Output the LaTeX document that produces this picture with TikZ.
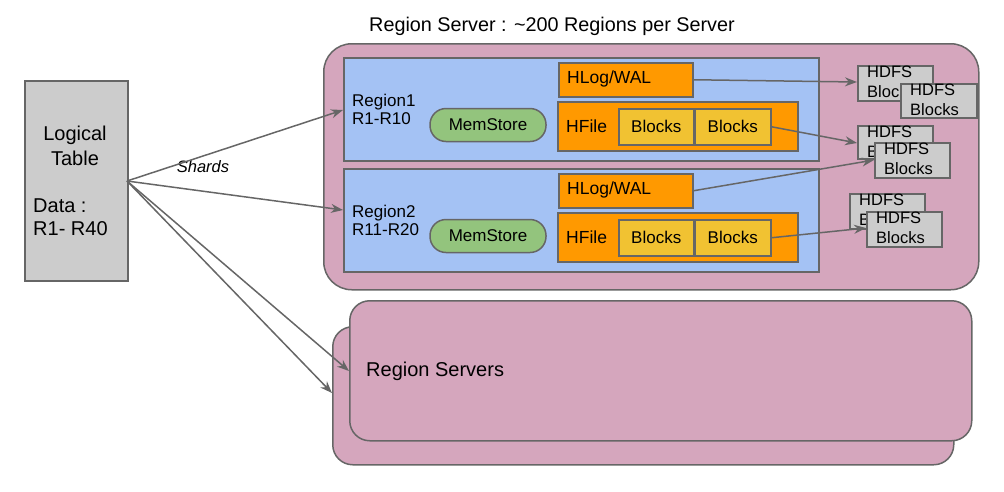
\documentclass[tikz,border=0pt]{standalone}
\usepackage{fontspec}
\setmainfont{Liberation Sans}
\usetikzlibrary{arrows.meta,shapes.geometric}
\definecolor{srvpink}{HTML}{D5A6BD}
\definecolor{regblue}{HTML}{A4C2F4}
\definecolor{hfor}{HTML}{FF9900}
\definecolor{blky}{HTML}{F1C232}
\definecolor{memg}{HTML}{93C47D}
\definecolor{hgray}{HTML}{CCCCCC}
\definecolor{edge}{HTML}{666666}
\tikzset{
  base/.style={draw=edge, line width=1.5pt, inner sep=0pt, anchor=north west},
  server/.style={base, fill=srvpink, rounded corners=28pt},
  regionbox/.style={base, fill=regblue},
  orangebox/.style={base, fill=hfor},
  blockbox/.style={base, fill=blky, font=\fontsize{17}{19}\selectfont},
  hdfsbox/.style={base, fill=hgray},
  hdfstext/.style={inner sep=0pt, anchor=north west, align=left, font=\fontsize{16.5}{20}\selectfont},
  memstore/.style={draw=edge, line width=1.5pt, fill=memg, rounded corners=16pt, inner sep=0pt, font=\fontsize{17}{19}\selectfont},
  lbl/.style={inner sep=0pt, anchor=west, font=\fontsize{17.5}{19}\selectfont},
  conn/.style={draw=edge, line width=1.5pt, -{Stealth[length=12pt,width=9pt]}},
}
\begin{document}
\begin{tikzpicture}[x=1pt,y=-1pt]
\useasboundingbox (0,0) rectangle (1004,491);
% title
\node[inner sep=0pt, font=\fontsize{19.8}{22}\selectfont] (title) at (552,26) {Region Server : \textasciitilde200 Regions per Server};
% logical table
\node[base, fill=hgray, minimum width=103pt, minimum height=200pt] (lt) at (24,80) {};
\node[inner sep=0pt, align=center, font=\fontsize{20}{25}\selectfont] (ltt) at (75,146) {Logical\\Table};
\node[inner sep=0pt, align=left, anchor=west, font=\fontsize{20}{23}\selectfont] (ltd) at (33,217) {Data :\\R1- R40};
% main server
\node[server, minimum width=655pt, minimum height=246pt] (rs) at (323,43) {};
% region servers stack
\node[server, rounded corners=20pt, minimum width=621pt, minimum height=138pt] (rsb) at (332,326) {};
\node[server, rounded corners=20pt, minimum width=622pt, minimum height=140pt] (rsf) at (349,300) {};
\node[lbl, font=\fontsize{20}{22}\selectfont] (rsl) at (366,371) {Region Servers};
% regions
\node[regionbox, minimum width=475pt, minimum height=103pt] (r1) at (343,57) {};
\node[regionbox, minimum width=475pt, minimum height=103pt] (r2) at (343,168) {};
\node[lbl, align=left, font=\fontsize{17}{18}\selectfont] (r1l) at (352,109) {Region1\\R1-R10};
\node[lbl, align=left, font=\fontsize{17}{18}\selectfont] (r2l) at (352,220) {Region2\\R11-R20};
\node[memstore, minimum width=116pt, minimum height=33pt] (m1) at (488,125) {MemStore};
\node[memstore, minimum width=116pt, minimum height=33pt] (m2) at (488,236) {MemStore};
% HLog
\node[orangebox, minimum width=134pt, minimum height=34pt] (w1) at (558,62) {};
\node[lbl] (w1l) at (567,79) {HLog/WAL};
\node[orangebox, minimum width=134pt, minimum height=34pt] (w2) at (558,173) {};
\node[lbl] (w2l) at (567,190) {HLog/WAL};
% HFile
\node[orangebox, minimum width=240pt, minimum height=49pt] (f1) at (557,101) {};
\node[lbl] (f1l) at (566,126) {HFile};
\node[blockbox, minimum width=75pt, minimum height=36pt] (b11) at (618,108) {Blocks};
\node[blockbox, minimum width=76pt, minimum height=36pt] (b12) at (694,108) {Blocks};
\node[orangebox, minimum width=240pt, minimum height=49pt] (f2) at (557,212) {};
\node[lbl] (f2l) at (566,237) {HFile};
\node[blockbox, minimum width=75pt, minimum height=36pt] (b21) at (618,219) {Blocks};
\node[blockbox, minimum width=76pt, minimum height=36pt] (b22) at (694,219) {Blocks};
% HDFS
\node[hdfsbox, minimum width=75pt, minimum height=35pt] (h1a) at (857,65) {};
\node[hdfstext] (h1at) at (867,66) {HDFS\\Blocks};
\node[hdfsbox, minimum width=76pt, minimum height=34pt] (h1b) at (900,83) {};
\node[hdfstext] (h1bt) at (910,84) {HDFS\\Blocks};
\node[hdfsbox, minimum width=75pt, minimum height=33pt] (h2a) at (857,125) {};
\node[hdfstext] (h2at) at (867,126) {HDFS\\Blocks};
\node[hdfsbox, minimum width=75pt, minimum height=35pt] (h2b) at (874,142) {};
\node[hdfstext] (h2bt) at (884,143) {HDFS\\Blocks};
\node[hdfsbox, minimum width=75pt, minimum height=35pt] (h3a) at (849,193) {};
\node[hdfstext] (h3at) at (859,194) {HDFS\\Blocks};
\node[hdfsbox, minimum width=75pt, minimum height=35pt] (h3b) at (866,211) {};
\node[hdfstext] (h3bt) at (876,212) {HDFS\\Blocks};
% connectors
\coordinate (lto) at (127,181);
\node[inner sep=0pt, font=\fontsize{16.5}{18}\selectfont\itshape] (shards) at (203,167) {Shards};
\draw[conn] (lto) -- (r1.west |- 0,110);
\draw[conn] (lto) -- (343,210);
\draw[conn] (lto) -- (349,371);
\draw[conn] (lto) -- (332,393);
\draw[conn] (w1.east) -- (h1a.west |- 0,82);
\draw[conn] (b12.east) -- (h2a.west |- 0,143);
\draw[conn] (w2.east) -- (h2b.west |- 0,160);
\draw[conn] (b22.east) -- (h3b.west |- 0,228);
\end{tikzpicture}
\end{document}
